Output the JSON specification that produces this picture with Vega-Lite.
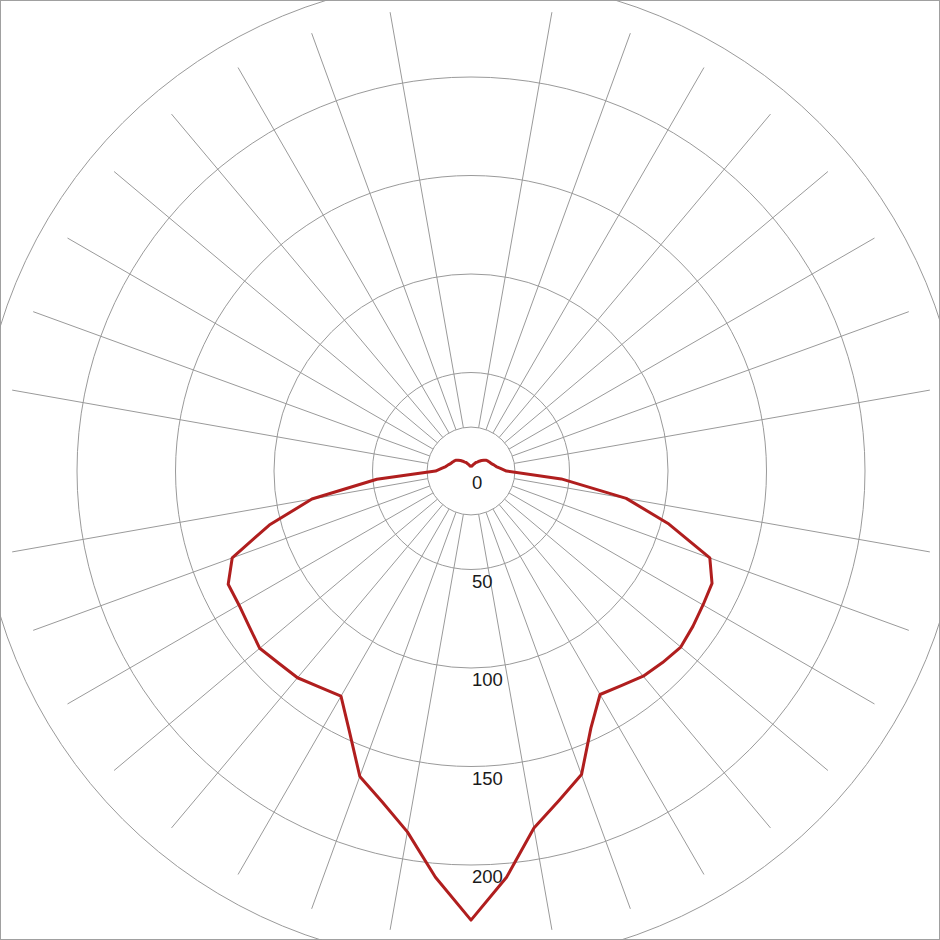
{
  "$schema": "https://vega.github.io/schema/vega-lite/v6.json",
  "width": 940,
  "height": 940,
  "autosize": {"type": "none"},
  "padding": 0,
  "background": "white",
  "config": {"view": {"stroke": "#a0a0a0", "strokeWidth": 2}},
  "datasets": {
    "curve": [
      {"gamma": -180, "cd": 2.5}, {"gamma": -175, "cd": 2.5}, {"gamma": -170, "cd": 2.5}, {"gamma": -165, "cd": 3},
      {"gamma": -160, "cd": 3.5}, {"gamma": -155, "cd": 4}, {"gamma": -150, "cd": 5}, {"gamma": -145, "cd": 5.5},
      {"gamma": -140, "cd": 6.5}, {"gamma": -135, "cd": 7.5}, {"gamma": -130, "cd": 8.5}, {"gamma": -125, "cd": 9.5},
      {"gamma": -120, "cd": 10}, {"gamma": -115, "cd": 10.5}, {"gamma": -110, "cd": 11}, {"gamma": -105, "cd": 12},
      {"gamma": -100, "cd": 13}, {"gamma": -95, "cd": 15}, {"gamma": -90, "cd": 18}, {"gamma": -85, "cd": 48},
      {"gamma": -80, "cd": 82}, {"gamma": -75, "cd": 106}, {"gamma": -70, "cd": 129}, {"gamma": -65, "cd": 136},
      {"gamma": -60, "cd": 136}, {"gamma": -55, "cd": 137.5}, {"gamma": -50, "cd": 140}, {"gamma": -45, "cd": 138},
      {"gamma": -40, "cd": 137}, {"gamma": -35, "cd": 134}, {"gamma": -30, "cd": 132}, {"gamma": -25, "cd": 146},
      {"gamma": -20, "cd": 165}, {"gamma": -15, "cd": 174}, {"gamma": -10, "cd": 186}, {"gamma": -5, "cd": 207},
      {"gamma": 0, "cd": 228},
      {"gamma": 5, "cd": 207}, {"gamma": 10, "cd": 184}, {"gamma": 15, "cd": 173}, {"gamma": 20, "cd": 164},
      {"gamma": 25, "cd": 144}, {"gamma": 30, "cd": 131}, {"gamma": 35, "cd": 133}, {"gamma": 40, "cd": 136},
      {"gamma": 45, "cd": 137.5}, {"gamma": 50, "cd": 139}, {"gamma": 55, "cd": 137.5}, {"gamma": 60, "cd": 136},
      {"gamma": 65, "cd": 135}, {"gamma": 70, "cd": 129}, {"gamma": 75, "cd": 104}, {"gamma": 80, "cd": 80},
      {"gamma": 85, "cd": 46}, {"gamma": 90, "cd": 18}, {"gamma": 95, "cd": 15}, {"gamma": 100, "cd": 13},
      {"gamma": 105, "cd": 12}, {"gamma": 110, "cd": 11}, {"gamma": 115, "cd": 10.5}, {"gamma": 120, "cd": 10},
      {"gamma": 125, "cd": 9.5}, {"gamma": 130, "cd": 8.5}, {"gamma": 135, "cd": 7.5}, {"gamma": 140, "cd": 6.5},
      {"gamma": 145, "cd": 5.5}, {"gamma": 150, "cd": 5}, {"gamma": 155, "cd": 4}, {"gamma": 160, "cd": 3.5},
      {"gamma": 165, "cd": 3}, {"gamma": 170, "cd": 2.5}, {"gamma": 175, "cd": 2.5}, {"gamma": 180, "cd": 2.5}
    ],
    "rings": [{"r": 22.3}, {"r": 50}, {"r": 100}, {"r": 150}, {"r": 200}, {"r": 250}],
    "spokes": [
      {"angle": 10}, {"angle": 20}, {"angle": 30}, {"angle": 40}, {"angle": 50}, {"angle": 60}, {"angle": 70}, {"angle": 80},
      {"angle": 100}, {"angle": 110}, {"angle": 120}, {"angle": 130}, {"angle": 140}, {"angle": 150}, {"angle": 160}, {"angle": 170},
      {"angle": 190}, {"angle": 200}, {"angle": 210}, {"angle": 220}, {"angle": 230}, {"angle": 240}, {"angle": 250}, {"angle": 260},
      {"angle": 280}, {"angle": 290}, {"angle": 300}, {"angle": 310}, {"angle": 320}, {"angle": 330}, {"angle": 340}, {"angle": 350}
    ],
    "labels": [{"v": 0, "t": "0"}, {"v": 50, "t": "50"}, {"v": 100, "t": "100"}, {"v": 150, "t": "150"}, {"v": 200, "t": "200"}]
  },
  "layer": [
    {
      "data": {"name": "rings"},
      "mark": {"type": "point", "shape": "circle", "filled": false, "stroke": "#9a9a9a", "strokeWidth": 1, "opacity": 1, "clip": true},
      "encoding": {
        "x": {"datum": 0, "type": "quantitative", "scale": {"domain": [-239.09, 238.07], "nice": false, "zero": false}, "axis": null},
        "y": {"datum": 0, "type": "quantitative", "scale": {"domain": [-238.07, 239.09], "nice": false, "zero": false}, "axis": null},
        "size": {"field": "r", "type": "quantitative", "scale": {"type": "pow", "exponent": 2, "domain": [0, 250], "range": [0, 970225], "zero": true}, "legend": null}
      }
    },
    {
      "data": {"name": "spokes"},
      "transform": [
        {"calculate": "datum.angle * PI / 180", "as": "rad"},
        {"calculate": "22.3 * sin(datum.rad)", "as": "x0"},
        {"calculate": "22.3 * cos(datum.rad)", "as": "y0"},
        {"calculate": "236.5 * sin(datum.rad)", "as": "x1"},
        {"calculate": "236.5 * cos(datum.rad)", "as": "y1"}
      ],
      "mark": {"type": "rule", "stroke": "#9a9a9a", "strokeWidth": 1},
      "encoding": {
        "x": {"field": "x0", "type": "quantitative", "axis": null},
        "y": {"field": "y0", "type": "quantitative", "axis": null},
        "x2": {"field": "x1"},
        "y2": {"field": "y1"}
      }
    },
    {
      "mark": {"type": "rule", "stroke": "#9a9a9a", "strokeWidth": 1.2},
      "encoding": {"x": {"datum": 0, "type": "quantitative", "axis": null}}
    },
    {
      "mark": {"type": "rule", "stroke": "#9a9a9a", "strokeWidth": 1.2},
      "encoding": {"y": {"datum": 0, "type": "quantitative", "axis": null}}
    },
    {
      "data": {"name": "labels"},
      "transform": [{"calculate": "-datum.v", "as": "ny"}],
      "mark": {"type": "text", "align": "left", "baseline": "top", "dx": 1, "dy": 3, "font": "Liberation Sans", "fontSize": 18.5, "fill": "#1a1a1a"},
      "encoding": {
        "x": {"datum": 0, "type": "quantitative", "axis": null},
        "y": {"field": "ny", "type": "quantitative", "axis": null},
        "text": {"field": "t"}
      }
    },
    {
      "data": {"name": "curve"},
      "transform": [
        {"calculate": "datum.gamma * PI / 180", "as": "rad"},
        {"calculate": "datum.cd * sin(datum.rad)", "as": "px"},
        {"calculate": "-datum.cd * cos(datum.rad)", "as": "py"}
      ],
      "mark": {"type": "line", "stroke": "#b01e1e", "strokeWidth": 3, "strokeJoin": "round"},
      "encoding": {
        "x": {"field": "px", "type": "quantitative", "axis": null},
        "y": {"field": "py", "type": "quantitative", "axis": null},
        "order": {"field": "gamma", "type": "quantitative"}
      }
    }
  ]
}
